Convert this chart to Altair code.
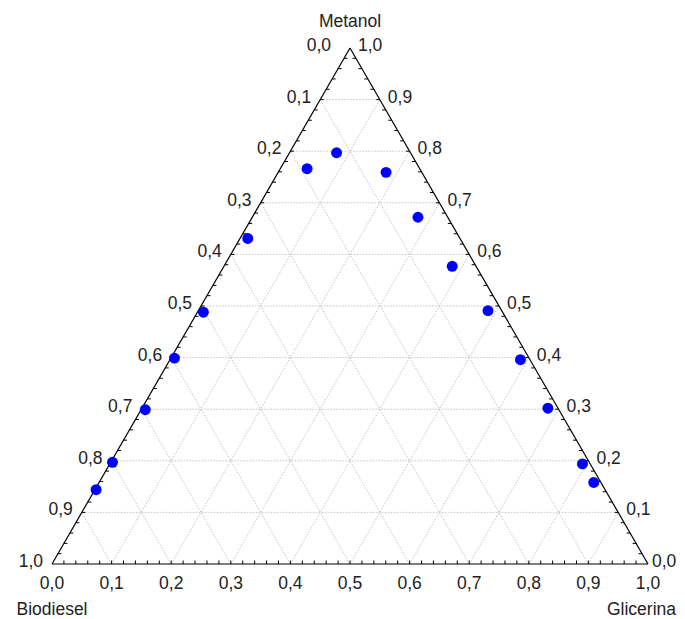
import altair as alt
import numpy as np
import pandas as pd

# --- data (mass fractions) ---
metanol   = [0.797, 0.766, 0.631, 0.488, 0.399, 0.299, 0.197, 0.144,
             0.759, 0.672, 0.577, 0.491, 0.396, 0.302, 0.194, 0.158]
glicerina = [0.079, 0.045, 0.013, 0.010, 0.006, 0.007, 0.003, 0.002,
             0.181, 0.278, 0.383, 0.486, 0.588, 0.681, 0.793, 0.830]
biodiesel = [0.124, 0.189, 0.356, 0.502, 0.595, 0.694, 0.800, 0.854,
             0.060, 0.050, 0.040, 0.023, 0.016, 0.017, 0.013, 0.012]

tick_values = [0.0, 0.1, 0.2, 0.3, 0.4, 0.5, 0.6, 0.7, 0.8, 0.9, 1.0]
tick_labels = ["0,0", "0,1", "0,2", "0,3", "0,4", "0,5", "0,6", "0,7", "0,8", "0,9", "1,0"]
corner_titles = ["Metanol", "Biodiesel", "Glicerina"]

S = np.sqrt(3) / 2
FONT = "Liberation Sans, Arial, sans-serif"
TXT = "#222222"


def to_xy(m, g):
    return g + m / 2.0, m * S


X = alt.X("x:Q", scale=alt.Scale(domain=[0, 1], nice=False, zero=False), axis=None)
Y = alt.Y("y:Q", scale=alt.Scale(domain=[0, float(S)], nice=False, zero=False), axis=None)

# --- grid lines (constant metanol, glicerina, biodiesel) ---
grid = []
for v in tick_values[1:-1]:
    segs = [((v, 0.0), (v, 1 - v)),          # metanol = v
            ((0.0, v), (1 - v, v)),          # glicerina = v
            ((0.0, 1 - v), (1 - v, 0.0))]    # biodiesel = v
    for (m1, g1), (m2, g2) in segs:
        x1, y1 = to_xy(m1, g1)
        x2, y2 = to_xy(m2, g2)
        grid.append(dict(x=x1, y=y1, x2=x2, y2=y2))
grid_df = pd.DataFrame(grid)

# --- triangle edges ---
corners = [to_xy(0, 0), to_xy(0, 1), to_xy(1, 0)]
edges = []
for i in range(3):
    a, b = corners[i], corners[(i + 1) % 3]
    edges.append(dict(x=a[0], y=a[1], x2=b[0], y2=b[1]))
edge_df = pd.DataFrame(edges)

# --- small ticks every 0.02 ---
TL = 3.5 / 596.0
ticks = []
for k in range(1, 50):
    t = k / 50.0
    ticks.append(dict(x=t, y=0.0, x2=t, y2=TL))                       # bottom
    lx, ly = to_xy(t, 0.0)
    ticks.append(dict(x=lx, y=ly, x2=lx + TL, y2=ly))                 # left
    rx, ry = to_xy(t, 1 - t)
    ticks.append(dict(x=rx, y=ry, x2=rx - TL, y2=ry))                 # right
tick_df = pd.DataFrame(ticks)

# --- points ---
px, py = to_xy(np.array(metanol), np.array(glicerina))
pts_df = pd.DataFrame(dict(x=px, y=py, metanol=metanol, glicerina=glicerina, biodiesel=biodiesel))

# --- labels ---
bottom_df = pd.DataFrame([dict(x=v, y=0.0, t=l) for v, l in zip(tick_values, tick_labels)])
left_rows = []
for v, l in zip(tick_values, tick_labels):
    lx, ly = to_xy(1 - v, 0.0)
    left_rows.append(dict(x=lx, y=ly, t=l))
left_df = pd.DataFrame(left_rows[1:])
apex_left_df = pd.DataFrame(left_rows[:1])
right_rows = []
for v, l in zip(tick_values, tick_labels):
    rx, ry = to_xy(v, 1 - v)
    right_rows.append(dict(x=rx, y=ry, t=l))
right_df = pd.DataFrame(right_rows[1:])
corner_right_df = pd.DataFrame(right_rows[:1])

top_df = pd.DataFrame([dict(x=0.5, y=float(S), t=corner_titles[0])])
bl_df = pd.DataFrame([dict(x=0.0, y=0.0, t=corner_titles[1])])
br_df = pd.DataFrame([dict(x=1.0, y=0.0, t=corner_titles[2])])

rule_enc = dict(x=X, y=Y, x2="x2:Q", y2="y2:Q")

grid_layer = alt.Chart(grid_df).mark_rule(color="#c4c4c4", strokeWidth=1, strokeDash=[1.5, 1.5]).encode(**rule_enc)
tick_layer = alt.Chart(tick_df).mark_rule(color="#000000", strokeWidth=1).encode(**rule_enc)
edge_layer = alt.Chart(edge_df).mark_rule(color="#000000", strokeWidth=1.2).encode(**rule_enc)
pts_layer = alt.Chart(pts_df).mark_circle(color="#0000ff", size=120, opacity=1).encode(x=X, y=Y)


def text_layer(df, **kw):
    base = dict(font=FONT, fontSize=17.5, color=TXT, baseline="middle")
    base.update(kw)
    return alt.Chart(df).mark_text(**base).encode(x=X, y=Y, text="t:N")


layers = [
    grid_layer, tick_layer, edge_layer, pts_layer,
    text_layer(bottom_df, align="center", dy=19.5),
    text_layer(left_df, align="right", dx=-9, dy=-2),
    text_layer(apex_left_df, align="right", dx=-19, dy=-2),
    text_layer(right_df, align="left", dx=8, dy=-2),
    text_layer(corner_right_df, align="left", dx=4, dy=-2),
    text_layer(top_df, align="center", dy=-26.5),
    text_layer(bl_df, align="center", dy=45.5),
    text_layer(br_df, align="right", dx=28, dy=45.5),
]

chart = alt.layer(*layers).properties(
    width=596,
    height=516,
    autosize=alt.AutoSizeParams(type="none"),
    padding={"left": 44, "top": 40, "right": 29, "bottom": 58},
    background="#ffffff",
).configure_view(strokeWidth=0)

chart.save("out.html", embed_options={"renderer": "svg", "actions": False})
